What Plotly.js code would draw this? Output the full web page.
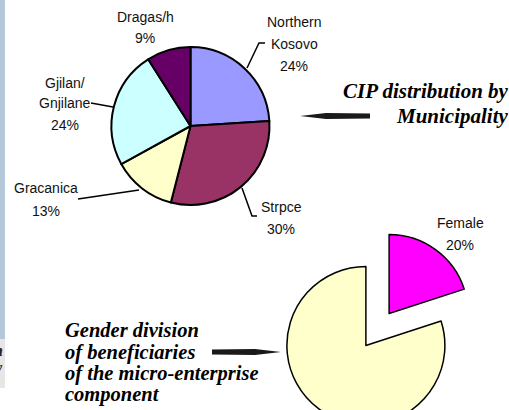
<!DOCTYPE html>
<html><head><meta charset="utf-8">
<script src="https://cdn.plot.ly/plotly-3.0.1.min.js"></script>
<style>html,body{margin:0;padding:0;overflow:hidden;background:#fff;width:509px;height:410px}</style>
</head><body><div id="chart" style="width:509px;height:440px"></div>
<script>
// ---- data ----
const municipalities = ['Northern<br>Kosovo', 'Strpce', 'Gracanica', 'Gjilan/<br>Gnjilane', 'Dragas/h'];
const municipalityShares = [24, 30, 13, 24, 9];
const genders = ['Female', 'Male'];
const genderShares = [20, 80];
const municipalityColors = ['#9999FF', '#993366', '#FFFFCC', '#CCFFFF', '#660066'];
const genderColors = ['#FF00FF', '#FFFFCC'];
const topTitle = ['CIP distribution by', 'Municipality'];
const bottomTitle = ['Gender division', 'of beneficiaries', 'of the micro-enterprise', 'component'];

// ---- layout helpers (pixel -> paper) ----
const W = 509, H = 440;
const px = x => x / W, py = y => 1 - y / H;
const path = pts => pts.map((p, i) => (i ? 'L' : 'M') + px(p[0]).toFixed(5) + ',' + py(p[1]).toFixed(5)).join(' ');

const pct = (arr, i) => Math.round(arr[i] / arr.reduce((a, b) => a + b, 0) * 100) + '%';

const traces = [
  {
    type: 'pie', labels: municipalities, values: municipalityShares, sort: false,
    direction: 'clockwise', rotation: 0, textinfo: 'none', hoverinfo: 'label+percent',
    marker: {colors: municipalityColors, line: {color: '#000', width: 2}},
    domain: {x: [px(111.5), px(269.5)], y: [py(205), py(47)]}, showlegend: false
  },
  {
    type: 'pie', labels: genders, values: genderShares, sort: false,
    direction: 'clockwise', rotation: 0, textinfo: 'none', hoverinfo: 'label+percent',
    pull: [0.25, 0.25],
    marker: {colors: genderColors, line: {color: '#000', width: 1.5}},
    domain: {x: [px(278.75), px(476.25)], y: [py(428.25), py(230.75)]}, showlegend: false
  }
];

const labelFont = {family: 'Liberation Sans, Arial, sans-serif', size: 14, color: '#111'};
const annotations = [];
function addLabel(text, cx, ys) {
  text.split('<br>').forEach((t, k) => annotations.push({
    xref: 'paper', yref: 'paper', x: px(cx), y: py(ys[k]), text: t, showarrow: false,
    xanchor: 'center', yanchor: 'middle', font: labelFont
  }));
}
const munLabelPos = [[294, [22, 44, 66]], [281, [207, 229]], [46, [188, 211]], [65, [83, 103, 125]], [145, [17, 38]]];
municipalities.forEach((m, i) => addLabel(m + '<br>' + pct(municipalityShares, i), munLabelPos[i][0], munLabelPos[i][1]));
addLabel(genders[0] + '<br>' + pct(genderShares, 0), 460, [223, 245]);

const serif = 'Liberation Serif, Times New Roman, serif';
topTitle.forEach((t, k) => annotations.push({
  xref: 'paper', yref: 'paper', x: px(511), y: py([91, 116][k]), text: t, showarrow: false,
  xanchor: 'right', yanchor: 'middle',
  font: {family: serif, size: 21, color: '#000', weight: 'bold', style: 'italic'}
}));
bottomTitle.forEach((t, k) => annotations.push({
  xref: 'paper', yref: 'paper', x: px(63), y: py([330, 352, 373, 394][k]), text: t, showarrow: false,
  xanchor: 'left', yanchor: 'middle',
  font: {family: serif, size: 20.5, color: '#000', weight: 'bold', style: 'italic'}
}));
// cut-off fragments at the left edge
['n', 'y'].forEach((t, k) => annotations.push({
  xref: 'paper', yref: 'paper', x: px(5), y: py([350, 368][k]), text: t, showarrow: false,
  xanchor: 'right', yanchor: 'middle',
  font: {family: serif, size: 16, color: '#222', weight: 'bold', style: 'italic'}
}));

const lead = {color: '#000', width: 1.5};
const shapes = [
  {type: 'rect', xref: 'paper', yref: 'paper', x0: 0, x1: px(5), y0: py(339), y1: py(0), fillcolor: '#B4C8DA', line: {width: 0}, layer: 'below'},
  {type: 'rect', xref: 'paper', yref: 'paper', x0: 0, x1: px(5), y0: py(388), y1: py(339), fillcolor: '#E6E6E6', line: {width: 0}, layer: 'below'},
  {type: 'path', xref: 'paper', yref: 'paper', path: path([[247, 68], [259, 43], [265, 43]]), line: lead},
  {type: 'path', xref: 'paper', yref: 'paper', path: path([[242, 188], [252, 216], [257, 216]]), line: lead},
  {type: 'path', xref: 'paper', yref: 'paper', path: path([[139, 190], [78, 199]]), line: lead},
  {type: 'path', xref: 'paper', yref: 'paper', path: path([[91, 103], [113, 107]]), line: lead},
  // arrows
  {type: 'path', xref: 'paper', yref: 'paper', path: path([[300, 116], [326, 113], [370, 113.5], [370, 118.5], [326, 119]]) + ' Z', fillcolor: '#1a1a1a', line: {width: 0}},
  {type: 'path', xref: 'paper', yref: 'paper', path: path([[281, 352], [255, 349], [212, 349.5], [212, 354.5], [255, 355]]) + ' Z', fillcolor: '#1a1a1a', line: {width: 0}}
];

Plotly.newPlot('chart', traces, {
  width: W, height: H, margin: {l: 0, r: 0, t: 0, b: 0},
  paper_bgcolor: '#fff', showlegend: false, annotations, shapes
}, {displayModeBar: false, staticPlot: true});
</script></body></html>
